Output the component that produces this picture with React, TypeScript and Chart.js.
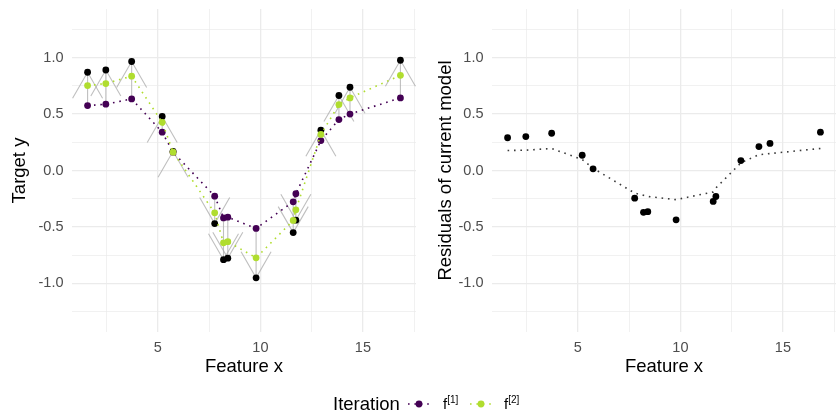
import React, { useEffect, useRef } from 'react';
import { Chart, registerables } from 'chart.js';

Chart.register(...registerables);

const FONT = "'Liberation Sans', Arial, Helvetica, sans-serif";

// ---- data ----
const featureX = [1.57, 2.46, 3.72, 5.21, 5.74, 7.77, 8.2, 8.41, 9.79, 11.6, 11.73, 12.95, 13.83, 14.37, 16.83];
const targetY = [0.87, 0.89, 0.965, 0.478, 0.17, -0.47, -0.79, -0.776, -0.95, -0.55, -0.44, 0.357, 0.664, 0.737, 0.976];
const fit1 = [0.575, 0.587, 0.634, 0.339, 0.162, -0.227, -0.42, -0.413, -0.513, -0.277, -0.206, 0.265, 0.451, 0.5, 0.643];
const fit2 = [0.752, 0.77, 0.835, 0.427, 0.162, -0.375, -0.64, -0.63, -0.773, -0.442, -0.348, 0.319, 0.584, 0.643, 0.843];
const residuals = [0.29, 0.3, 0.33, 0.135, 0.015, -0.245, -0.37, -0.365, -0.437, -0.274, -0.23, 0.088, 0.212, 0.24, 0.339];
const residualFit = [0.177, 0.18, 0.195, 0.097, 0.02, -0.2, -0.22, -0.23, -0.258, -0.19, -0.155, 0.068, 0.14, 0.15, 0.195];

const xTickLabels = [5, 10, 15];
const yTickLabels = [-1, -0.5, 0, 0.5, 1];
const legendLabels = ['[1]', '[2]'];

const X_MIN = 0.81;
const X_MAX = 17.59;
const Y_MIN = -1.43;
const Y_MAX = 1.43;

const PURPLE = '#440154';
const GREEN = '#B0DD2F';
const GRID = '#EBEBEB';
const TICK = '#4D4D4D';
const ARROW = 'rgba(170,170,170,0.75)';

const near = (v: number, list: number[]) => list.some((t) => Math.abs(t - v) < 1e-6);

const pts = (ys: number[]) => featureX.map((x, i) => ({ x, y: ys[i] }));

const arrowPlugin = {
  id: 'residualArrows',
  beforeDatasetsDraw(chart: any) {
    const { ctx, scales, chartArea } = chart;
    const xs = scales.x;
    const ys = scales.y;
    ctx.save();
    ctx.beginPath();
    ctx.rect(chartArea.left, chartArea.top, chartArea.right - chartArea.left, chartArea.bottom - chartArea.top);
    ctx.clip();
    ctx.strokeStyle = ARROW;
    ctx.lineWidth = 1.1;
    const L = 30;
    const a = Math.PI / 6;
    featureX.forEach((fx, i) => {
      const px = xs.getPixelForValue(fx);
      const y0 = ys.getPixelForValue(fit1[i]);
      const y1 = ys.getPixelForValue(targetY[i]);
      const dir = y1 < y0 ? 1 : -1;
      ctx.beginPath();
      ctx.moveTo(px, y0);
      ctx.lineTo(px, y1);
      ctx.stroke();
      ctx.beginPath();
      ctx.moveTo(px - L * Math.sin(a), y1 + dir * L * Math.cos(a));
      ctx.lineTo(px, y1);
      ctx.lineTo(px + L * Math.sin(a), y1 + dir * L * Math.cos(a));
      ctx.stroke();
    });
    ctx.restore();
  },
};

function makeScales(yTitle: string, yTitlePad: number) {
  return {
    x: {
      type: 'linear',
      min: X_MIN,
      max: X_MAX,
      border: { display: false },
      grid: {
        color: GRID,
        lineWidth: (c: any) => (c.tick && Math.abs(c.tick.value / 5 - Math.round(c.tick.value / 5)) < 1e-6 ? 1.3 : 0.7),
        drawTicks: false,
      },
      ticks: {
        stepSize: 2.5,
        autoSkip: false,
        includeBounds: false,
        maxRotation: 0,
        padding: 7,
        color: TICK,
        font: { family: FONT, size: 14.5 },
        callback: (v: number) => (near(v, xTickLabels) ? String(Math.round(v)) : ''),
      },
      title: {
        display: true,
        text: 'Feature x',
        color: '#000',
        font: { family: FONT, size: 18.5 },
        padding: { top: 0, bottom: 0 },
      },
      afterFit: (s: any) => {
        s.height = 46;
        s.paddingLeft = 0;
        s.paddingRight = 0;
      },
    },
    y: {
      type: 'linear',
      min: Y_MIN,
      max: Y_MAX,
      border: { display: false },
      grid: {
        color: GRID,
        lineWidth: (c: any) => (c.tick && Math.abs(c.tick.value * 2 - Math.round(c.tick.value * 2)) < 1e-6 ? 1.3 : 0.7),
        drawTicks: false,
      },
      ticks: {
        stepSize: 0.25,
        autoSkip: false,
        includeBounds: false,
        padding: 8.5,
        color: TICK,
        font: { family: FONT, size: 14.5 },
        callback: (v: number) => (near(v, yTickLabels) ? v.toFixed(1) : ''),
      },
      title: {
        display: true,
        text: yTitle,
        color: '#000',
        font: { family: FONT, size: 18.5 },
        padding: { top: yTitlePad, bottom: 0 },
      },
      afterFit: (s: any) => {
        s.width = 72;
        s.paddingTop = 0;
        s.paddingBottom = 0;
      },
    },
  };
}

const dottedLine = (color: string) => ({
  showLine: true,
  borderColor: color,
  borderWidth: 1.6,
  borderDash: [1.6, 4.8],
  borderCapStyle: 'butt',
});

function leftConfig(): any {
  return {
    type: 'scatter',
    data: {
      datasets: [
        {
          label: 'f[2]',
          data: pts(fit2),
          ...dottedLine(GREEN),
          pointRadius: 3.4,
          pointBackgroundColor: GREEN,
          pointBorderWidth: 0,
        },
        {
          label: 'f[1]',
          data: pts(fit1),
          ...dottedLine(PURPLE),
          pointRadius: 3.4,
          pointBackgroundColor: PURPLE,
          pointBorderWidth: 0,
        },
        {
          label: 'Target y',
          data: pts(targetY),
          showLine: false,
          pointRadius: 3.4,
          pointBackgroundColor: '#000',
          pointBorderWidth: 0,
        },
      ],
    },
    options: {
      responsive: false,
      animation: false,
      events: [],
      layout: { padding: { top: 9, right: 3, bottom: 35, left: 0 } },
      plugins: { legend: { display: false }, tooltip: { enabled: false } },
      scales: makeScales('Target y', 9),
    },
    plugins: [arrowPlugin],
  };
}

function rightConfig(): any {
  return {
    type: 'scatter',
    data: {
      datasets: [
        {
          label: 'Residuals',
          data: pts(residuals),
          showLine: false,
          pointRadius: 3.4,
          pointBackgroundColor: '#000',
          pointBorderWidth: 0,
        },
        {
          label: 'Fit to residuals',
          data: pts(residualFit),
          ...dottedLine('#3a3a3a'),
          pointRadius: 0,
        },
      ],
    },
    options: {
      responsive: false,
      animation: false,
      events: [],
      layout: { padding: { top: 9, right: 0, bottom: 35, left: 0 } },
      plugins: { legend: { display: false }, tooltip: { enabled: false } },
      scales: makeScales('Residuals of current model', 15),
    },
  };
}

function LegendKey({ color, left }: { color: string; left: number }) {
  return (
    <svg style={{ position: 'absolute', left, top: 394 }} width={22} height={20}>
      <line x1={0} y1={10} x2={22} y2={10} stroke={color} strokeWidth={1.6} strokeDasharray="1.6 4.8" />
      <circle cx={11} cy={10} r={3.4} fill={color} />
    </svg>
  );
}

function LegendLabel({ sup, left }: { sup: string; left: number }) {
  return (
    <div
      style={{
        position: 'absolute',
        left,
        top: 394,
        height: 20,
        display: 'flex',
        alignItems: 'center',
        fontSize: 14.9,
        lineHeight: 1,
        color: '#000',
        whiteSpace: 'nowrap',
      }}
    >
      <span>
        f<sup style={{ fontSize: 10, lineHeight: 0, verticalAlign: 'super' }}>{sup}</sup>
      </span>
    </div>
  );
}

export default function App() {
  const leftRef = useRef<HTMLCanvasElement>(null);
  const rightRef = useRef<HTMLCanvasElement>(null);

  useEffect(() => {
    const left = new Chart(leftRef.current as HTMLCanvasElement, leftConfig());
    const right = new Chart(rightRef.current as HTMLCanvasElement, rightConfig());
    return () => {
      left.destroy();
      right.destroy();
    };
  }, []);

  return (
    <div
      style={{
        position: 'absolute',
        left: 0,
        top: 0,
        width: 837,
        height: 413,
        overflow: 'hidden',
        background: '#fff',
        fontFamily: FONT,
      }}
    >
      <canvas
        ref={leftRef}
        width={420}
        height={413}
        style={{ position: 'absolute', left: 0, top: 0, width: 420, height: 413 }}
      />
      <canvas
        ref={rightRef}
        width={420}
        height={413}
        style={{ position: 'absolute', left: 420, top: 0, width: 420, height: 413 }}
      />
      <div
        style={{
          position: 'absolute',
          left: 333,
          top: 394,
          height: 20,
          display: 'flex',
          alignItems: 'center',
          fontSize: 18.5,
          lineHeight: 1,
          color: '#000',
        }}
      >
        Iteration
      </div>
      <LegendKey color={PURPLE} left={408} />
      <LegendLabel sup={legendLabels[0]} left={443} />
      <LegendKey color={GREEN} left={470} />
      <LegendLabel sup={legendLabels[1]} left={504} />
    </div>
  );
}
